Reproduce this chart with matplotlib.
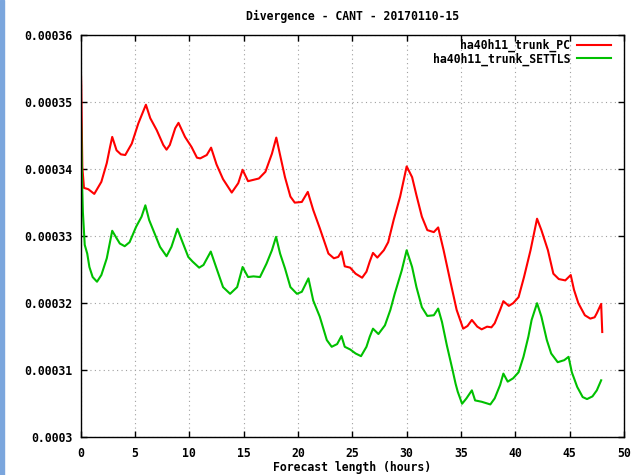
import matplotlib
matplotlib.use("Agg")
import matplotlib.pyplot as plt
from matplotlib.patches import Rectangle

# Divergence - CANT - 20170110-15
title = "Divergence - CANT - 20170110-15"
names = ["ha40h11_trunk_PC", "ha40h11_trunk_SETTLS"]

hours_pc = [0.0, 0.05, 0.1, 0.15, 0.3, 0.7, 1.25, 1.9, 2.4, 2.7, 2.9, 3.3, 3.7, 4.1,
            4.7, 5.3, 6.0, 6.4, 7.0, 7.6, 7.9, 8.2, 8.7, 9.0, 9.6, 10.2, 10.7, 11.0,
            11.6, 12.0, 12.5, 13.1, 13.9, 14.5, 14.9, 15.4, 16.4, 17.0, 17.6, 18.0,
            18.35, 18.8, 19.3, 19.7, 20.35, 20.9, 21.4, 22.0, 22.8, 23.3, 23.7, 24.0,
            24.3, 24.8, 25.3, 25.9, 26.3, 26.6, 26.9, 27.3, 27.9, 28.3, 28.8, 29.4,
            30.0, 30.5, 30.9, 31.4, 31.9, 32.5, 32.9, 33.4, 34.0, 34.6, 35.2, 35.6,
            36.0, 36.5, 36.9, 37.4, 37.8, 38.1, 38.6, 38.9, 39.4, 39.8, 40.3, 40.8,
            41.4, 42.0, 42.4, 43.0, 43.5, 44.0, 44.6, 45.1, 45.4, 45.8, 46.4, 46.9,
            47.3, 47.5, 47.9, 48.0]
div_pc = [3.558e-4, 3.525e-4, 3.461e-4, 3.403e-4, 3.372e-4, 3.370e-4, 3.363e-4,
          3.381e-4, 3.409e-4, 3.433e-4, 3.448e-4, 3.428e-4, 3.422e-4, 3.421e-4,
          3.438e-4, 3.468e-4, 3.496e-4, 3.476e-4, 3.458e-4, 3.436e-4, 3.429e-4,
          3.436e-4, 3.461e-4, 3.469e-4, 3.448e-4, 3.433e-4, 3.417e-4, 3.416e-4,
          3.421e-4, 3.432e-4, 3.407e-4, 3.385e-4, 3.365e-4, 3.379e-4, 3.399e-4,
          3.382e-4, 3.386e-4, 3.396e-4, 3.423e-4, 3.447e-4, 3.421e-4, 3.388e-4,
          3.359e-4, 3.350e-4, 3.351e-4, 3.366e-4, 3.339e-4, 3.312e-4, 3.274e-4,
          3.267e-4, 3.269e-4, 3.277e-4, 3.255e-4, 3.253e-4, 3.244e-4, 3.238e-4,
          3.247e-4, 3.262e-4, 3.275e-4, 3.268e-4, 3.279e-4, 3.291e-4, 3.324e-4,
          3.359e-4, 3.404e-4, 3.388e-4, 3.361e-4, 3.329e-4, 3.309e-4, 3.306e-4,
          3.313e-4, 3.279e-4, 3.234e-4, 3.190e-4, 3.162e-4, 3.166e-4, 3.175e-4,
          3.165e-4, 3.161e-4, 3.165e-4, 3.164e-4, 3.170e-4, 3.190e-4, 3.203e-4,
          3.196e-4, 3.200e-4, 3.209e-4, 3.239e-4, 3.279e-4, 3.326e-4, 3.309e-4,
          3.279e-4, 3.244e-4, 3.236e-4, 3.234e-4, 3.242e-4, 3.220e-4, 3.200e-4,
          3.182e-4, 3.177e-4, 3.179e-4, 3.185e-4, 3.199e-4, 3.157e-4]

hours_settls = [0.0, 0.05, 0.1, 0.2, 0.37, 0.6, 0.8, 1.1, 1.5, 1.9, 2.4, 2.9, 3.3, 3.6,
                4.05, 4.5, 5.1, 5.6, 5.95, 6.3, 6.8, 7.3, 7.9, 8.35, 8.9, 9.3, 9.9,
                10.3, 10.9, 11.3, 11.6, 11.97, 12.5, 13.1, 13.75, 14.4, 14.9, 15.4,
                15.9, 16.5, 17.1, 17.6, 17.98, 18.35, 18.8, 19.3, 19.9, 20.35, 20.96,
                21.4, 22.0, 22.65, 23.1, 23.6, 24.0, 24.3, 24.8, 25.3, 25.8, 26.3,
                26.6, 26.9, 27.4, 28.0, 28.5, 28.9, 29.55, 30.0, 30.5, 30.9, 31.4,
                31.9, 32.5, 32.9, 33.25, 33.7, 34.2, 34.5, 34.7, 35.1, 35.5, 36.0,
                36.3, 36.9, 37.7, 38.1, 38.6, 38.9, 39.3, 39.8, 40.3, 40.75, 41.2,
                41.5, 42.0, 42.4, 42.9, 43.3, 43.9, 44.5, 44.9, 45.2, 45.7, 46.2,
                46.6, 47.1, 47.5, 47.9]
div_settls = [3.491e-4, 3.458e-4, 3.396e-4, 3.336e-4, 3.287e-4, 3.274e-4, 3.254e-4,
              3.239e-4, 3.232e-4, 3.242e-4, 3.267e-4, 3.308e-4, 3.297e-4, 3.289e-4,
              3.285e-4, 3.291e-4, 3.314e-4, 3.329e-4, 3.346e-4, 3.324e-4, 3.304e-4,
              3.284e-4, 3.270e-4, 3.284e-4, 3.311e-4, 3.294e-4, 3.269e-4, 3.262e-4,
              3.253e-4, 3.257e-4, 3.266e-4, 3.277e-4, 3.252e-4, 3.224e-4, 3.214e-4,
              3.224e-4, 3.254e-4, 3.239e-4, 3.240e-4, 3.239e-4, 3.259e-4, 3.279e-4,
              3.299e-4, 3.274e-4, 3.252e-4, 3.224e-4, 3.214e-4, 3.217e-4, 3.237e-4,
              3.204e-4, 3.180e-4, 3.145e-4, 3.135e-4, 3.139e-4, 3.151e-4, 3.135e-4,
              3.131e-4, 3.125e-4, 3.121e-4, 3.135e-4, 3.150e-4, 3.162e-4, 3.154e-4,
              3.167e-4, 3.190e-4, 3.214e-4, 3.249e-4, 3.279e-4, 3.254e-4, 3.224e-4,
              3.194e-4, 3.181e-4, 3.182e-4, 3.192e-4, 3.172e-4, 3.137e-4, 3.102e-4,
              3.080e-4, 3.068e-4, 3.050e-4, 3.058e-4, 3.070e-4, 3.055e-4, 3.053e-4,
              3.049e-4, 3.058e-4, 3.078e-4, 3.095e-4, 3.083e-4, 3.088e-4, 3.097e-4,
              3.120e-4, 3.150e-4, 3.175e-4, 3.200e-4, 3.180e-4, 3.145e-4, 3.125e-4,
              3.112e-4, 3.115e-4, 3.120e-4, 3.097e-4, 3.075e-4, 3.060e-4, 3.057e-4,
              3.061e-4, 3.070e-4, 3.085e-4]

xticks = [0, 5, 10, 15, 20, 25, 30, 35, 40, 45, 50]
yticks = [0.0003, 0.00031, 0.00032, 0.00033, 0.00034, 0.00035, 0.00036]

font = {"family": "DejaVu Sans Mono", "weight": "bold", "size": 8.3}
plt.rcParams["font.family"] = "DejaVu Sans Mono"
plt.rcParams["font.weight"] = "bold"
plt.rcParams["font.size"] = 8.3

fig = plt.figure(figsize=(6.32, 4.75), dpi=100)
ax = fig.add_axes([0.1277, 0.0794, 0.8596, 0.8469])

# window border strip on the left
fig.patches.append(Rectangle((0, 0), 4 / 632, 1, transform=fig.transFigure,
                             color="#7ba6dd", zorder=0))

ax.plot(hours_pc, div_pc, color="#ff0000", lw=1.5, label=names[0])
ax.plot(hours_settls, div_settls, color="#00c000", lw=1.5, label=names[1])

ax.set_xlim(0, 50)
ax.set_ylim(0.0003, 0.00036)
ax.set_xticks(xticks)
ax.set_xticklabels([str(t) for t in xticks])
ax.set_yticks(yticks)
ax.set_yticklabels(["%g" % t for t in yticks])

ax.tick_params(direction="in", length=4, width=1, top=True, right=True,
               labeltop=False, labelright=False)
ax.tick_params(axis="x", pad=7)
ax.tick_params(axis="y", pad=6)
for s in ax.spines.values():
    s.set_linewidth(1.0)

ax.grid(True, color="#a0a0a0", lw=0.8, linestyle=(0, (1, 3)))

ax.set_title(title, pad=11, fontdict=font)
ax.set_xlabel("Forecast length (hours)", labelpad=0.5, fontdict=font)

ax.legend(loc="upper right", bbox_to_anchor=(0.976, 0.99), frameon=False,
          markerfirst=False, handlelength=2.95, handletextpad=0.6,
          labelspacing=0.0, borderpad=0, borderaxespad=0)

fig.savefig("out.png", dpi=100)
